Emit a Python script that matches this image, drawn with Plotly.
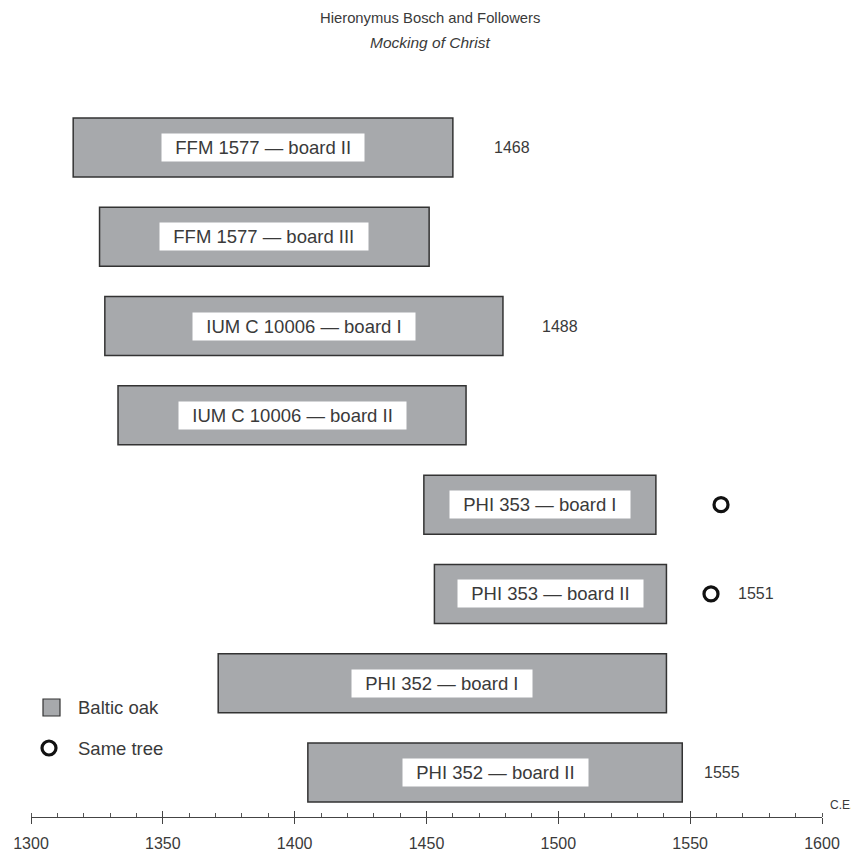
import plotly.graph_objects as go

# ---- data ----
boards = ["FFM 1577 — board II", "FFM 1577 — board III", "IUM C 10006 — board I",
          "IUM C 10006 — board II", "PHI 353 — board I", "PHI 353 — board II",
          "PHI 352 — board I", "PHI 352 — board II"]
start_years = [1316, 1326, 1328, 1333, 1449, 1453, 1371, 1405]
end_years = [1460, 1451, 1479, 1465, 1537, 1541, 1541, 1547]
felling_labels = ["1468", "", "1488", "", "", "", "", "1555"]
same_tree_rows = [4, 5]
same_tree_x = [1561.7, 1557.9]
same_tree_labels = ["", "1551"]
tick_years = [1300, 1350, 1400, 1450, 1500, 1550, 1600]

# ---- layout geometry (screen pixels; page body has an 8px margin) ----
OFF = 8
W, H = 859 - OFF, 855 - OFF
L, R, T, B = 31 - OFF, 822 - OFF, 60 - OFF, 817 - OFF
FONT = "Liberation Sans, Arial, Helvetica, sans-serif"
TXT = "#3a3a3a"
GRAY = "#a7a9ac"
EDGE = "#333333"


def px(x):
    """screen x pixel -> paper coordinate"""
    return (x - OFF - L) / (R - L)


def py(y):
    """screen y pixel -> paper coordinate"""
    return (B - (y - OFF)) / (B - T)


rows = list(range(len(boards)))
row0 = 147.5 - OFF
pitch = (772.5 - 147.5) / 7
y_bottom = (B - row0) / pitch
y_top = -(row0 - T) / pitch

fig = go.Figure()
fig.add_trace(go.Bar(
    y=rows, x=[e - s for s, e in zip(start_years, end_years)], base=start_years,
    orientation="h", width=59 / pitch,
    marker=dict(color=GRAY, line=dict(color=EDGE, width=1.5)),
    hoverinfo="skip", showlegend=False))

fig.add_trace(go.Scatter(
    x=same_tree_x, y=same_tree_rows, mode="markers",
    marker=dict(symbol="circle", size=14, color="white", line=dict(color="#111", width=3.2)),
    hoverinfo="skip", showlegend=False))

annotations = []
for i, (name, s, e) in enumerate(zip(boards, start_years, end_years)):
    annotations.append(dict(
        x=(s + e) / 2, y=i, xref="x", yref="y", text="\u00a0\u00a0" + name + "\u00a0\u00a0",
        showarrow=False, bgcolor="white", borderpad=3, yanchor="middle",
        font=dict(family=FONT, size=18.5, color=TXT)))

# screen x-centres of the date labels
label_centre = [512, None, 560, None, None, None, None, 722]
for i, lab in enumerate(felling_labels):
    if lab:
        annotations.append(dict(
            x=px(label_centre[i]), y=i, xref="paper", yref="y", text=lab, showarrow=False,
            xanchor="center", yanchor="middle", font=dict(family=FONT, size=16, color=TXT)))

for r_, lab in zip(same_tree_rows, same_tree_labels):
    if lab:
        annotations.append(dict(
            x=px(756), y=r_, xref="paper", yref="y", text=lab, showarrow=False,
            xanchor="center", yanchor="middle", font=dict(family=FONT, size=16, color=TXT)))

# title
annotations.append(dict(x=px(429.5), y=py(18), xref="paper", yref="paper",
                        text="Hieronymus Bosch and Followers", showarrow=False,
                        xanchor="center", yanchor="middle",
                        font=dict(family=FONT, size=14.8, color=TXT)))
annotations.append(dict(x=px(429.5), y=py(42), xref="paper", yref="paper",
                        text="<i>Mocking of Christ</i>", showarrow=False,
                        xanchor="center", yanchor="middle",
                        font=dict(family=FONT, size=15.5, color=TXT)))
# legend text
annotations.append(dict(x=px(76), y=py(707.5), xref="paper", yref="paper",
                        text="Baltic oak", showarrow=False, xanchor="left", yanchor="middle",
                        font=dict(family=FONT, size=18.5, color=TXT)))
annotations.append(dict(x=px(76), y=py(748), xref="paper", yref="paper",
                        text="Same tree", showarrow=False, xanchor="left", yanchor="middle",
                        font=dict(family=FONT, size=18.5, color=TXT)))
# C.E.
annotations.append(dict(x=px(854), y=py(805), xref="paper", yref="paper",
                        text="C.E.", showarrow=False, xanchor="right", yanchor="middle",
                        borderpad=0,
                        font=dict(family=FONT, size=12, color=TXT)))

shapes = [
    dict(type="rect", xref="paper", yref="paper", x0=px(43), x1=px(60), y0=py(716), y1=py(699),
         fillcolor=GRAY, line=dict(color=EDGE, width=1.2)),
    dict(type="circle", xref="paper", yref="paper", x0=px(42), x1=px(56), y0=py(755), y1=py(741),
         fillcolor="white", line=dict(color="#111", width=3.2)),
]

fig.update_layout(
    width=W, height=H,
    margin=dict(l=L, r=W - R, t=T, b=H - B, autoexpand=False),
    plot_bgcolor="white", paper_bgcolor="white",
    annotations=annotations, shapes=shapes,
    xaxis=dict(range=[1300, 1600], showgrid=False, zeroline=False, automargin=False,
               showline=True, linecolor="#444", linewidth=1,
               tickmode="array", tickvals=tick_years, ticktext=[str(t) for t in tick_years],
               ticks="outside", ticklen=6, tickwidth=1, tickcolor="#444",
               ticklabelstandoff=6,
               tickfont=dict(family=FONT, size=16, color=TXT),
               minor=dict(dtick=10, ticks="inside", ticklen=4, tickwidth=1, tickcolor="#555",
                          showgrid=False),
               fixedrange=True),
    xaxis2=dict(range=[1300, 1600], overlaying="x", anchor="y", side="bottom",
                showgrid=False, zeroline=False, showline=False, automargin=False,
                tickmode="array", tickvals=tick_years, showticklabels=False,
                ticks="inside", ticklen=6, tickwidth=1, tickcolor="#444"),
    yaxis=dict(range=[y_bottom, y_top], visible=False, fixedrange=True, automargin=False),
    showlegend=False,
)
# invisible trace that activates the overlay axis carrying the upper half of the major ticks
fig.add_trace(go.Scatter(x=[1300], y=[0], xaxis="x2", mode="markers",
                         marker=dict(opacity=0), hoverinfo="skip", showlegend=False))

fig.write_html("out.html")
